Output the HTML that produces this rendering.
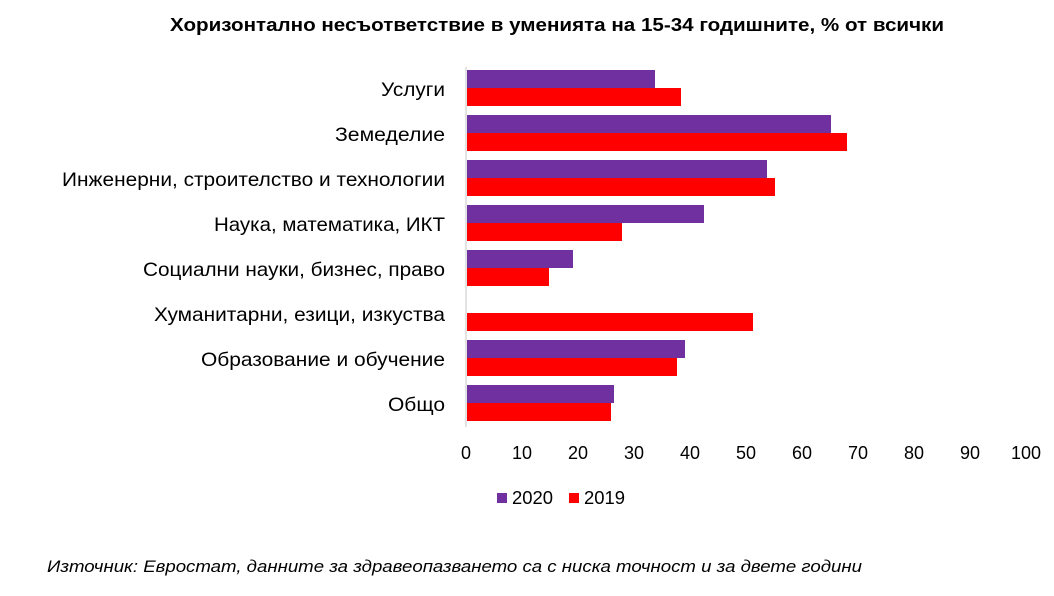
<!DOCTYPE html>
<html><head><meta charset="utf-8"><style>
html,body{margin:0;padding:0;background:#fff;}
svg{display:block;font-family:"Liberation Sans",Calibri,sans-serif;}
</style></head><body>
<svg width="1054" height="596" viewBox="0 0 1054 596" xmlns="http://www.w3.org/2000/svg">
<text x="170" y="31" font-size="18" font-weight="bold" fill="#000" textLength="774" lengthAdjust="spacingAndGlyphs">Хоризонтално несъответствие в уменията на 15-34 годишните, % от всички</text>
<g font-size="19.5" fill="#000" lengthAdjust="spacingAndGlyphs">
<text x="381" y="96" textLength="64" lengthAdjust="spacingAndGlyphs">Услуги</text>
<text x="335" y="141" textLength="110" lengthAdjust="spacingAndGlyphs">Земеделие</text>
<text x="62" y="186" textLength="383" lengthAdjust="spacingAndGlyphs">Инженерни, строителство и технологии</text>
<text x="214" y="231" textLength="231" lengthAdjust="spacingAndGlyphs">Наука, математика, ИКТ</text>
<text x="143" y="276" textLength="302" lengthAdjust="spacingAndGlyphs">Социални науки, бизнес, право</text>
<text x="154" y="321" textLength="291" lengthAdjust="spacingAndGlyphs">Хуманитарни, езици, изкуства</text>
<text x="201" y="366" textLength="244" lengthAdjust="spacingAndGlyphs">Образование и обучение</text>
<text x="388" y="411" textLength="57" lengthAdjust="spacingAndGlyphs">Общо</text>
</g>
<g fill="#7030A0">
<rect x="467" y="70" width="188" height="18"/>
<rect x="467" y="115" width="364" height="18"/>
<rect x="467" y="160" width="300" height="18"/>
<rect x="467" y="205" width="237" height="18"/>
<rect x="467" y="250" width="106" height="18"/>
<rect x="467" y="340" width="218" height="18"/>
<rect x="467" y="385" width="147" height="18"/>
</g>
<g fill="#FF0000">
<rect x="467" y="88" width="214" height="18"/>
<rect x="467" y="133" width="380" height="18"/>
<rect x="467" y="178" width="308" height="18"/>
<rect x="467" y="223" width="155" height="18"/>
<rect x="467" y="268" width="82" height="18"/>
<rect x="467" y="313" width="286" height="18"/>
<rect x="467" y="358" width="210" height="18"/>
<rect x="467" y="403" width="144" height="18"/>
</g>
<line x1="466" y1="67" x2="466" y2="427" stroke="#d9d9d9" stroke-width="1.5"/>
<g font-size="18" fill="#000" text-anchor="middle">
<text x="466" y="459">0</text><text x="522" y="459">10</text><text x="578" y="459">20</text>
<text x="634" y="459">30</text><text x="690" y="459">40</text><text x="746" y="459">50</text>
<text x="802" y="459">60</text><text x="858" y="459">70</text><text x="914" y="459">80</text>
<text x="970" y="459">90</text><text x="1026" y="459">100</text>
</g>
<rect x="497" y="493" width="10" height="10" fill="#7030A0"/>
<text x="512" y="504" font-size="18" textLength="41" lengthAdjust="spacingAndGlyphs">2020</text>
<rect x="569" y="493" width="10" height="10" fill="#FF0000"/>
<text x="584" y="504" font-size="18" textLength="41" lengthAdjust="spacingAndGlyphs">2019</text>
<text x="47" y="572" font-size="17" font-style="italic" textLength="815" lengthAdjust="spacingAndGlyphs">Източник: Евростат, данните за здравеопазването са с ниска точност и за двете години</text>
</svg>
</body></html>
